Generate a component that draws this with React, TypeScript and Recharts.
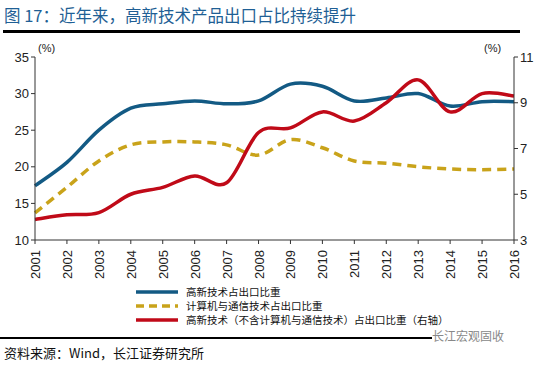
import { LineChart, Line, XAxis, YAxis } from "recharts"

const years = ["2001", "2002", "2003", "2004", "2005", "2006", "2007", "2008", "2009", "2010", "2011", "2012", "2013", "2014", "2015", "2016"]
const hiTech = [17.4, 20.6, 25.0, 28.0, 28.6, 29.0, 28.6, 29.0, 31.3, 31.0, 29.0, 29.4, 30.0, 28.3, 28.9, 28.9]
const computerComm = [13.7, 17.2, 20.8, 23.0, 23.4, 23.4, 23.0, 21.6, 23.7, 22.6, 20.8, 20.5, 20.0, 19.7, 19.6, 19.7]
const hiTechExcl = [3.9, 4.1, 4.2, 5.0, 5.3, 5.8, 5.5, 7.7, 7.9, 8.6, 8.2, 9.0, 10.0, 8.6, 9.4, 9.3]
const leftTicks = [10, 15, 20, 25, 30, 35]
const rightTicks = [3, 5, 7, 9, 11]
const seriesNames = ["高新技术占出口比重", "计算机与通信技术占出口比重", "高新技术（不含计算机与通信技术）占出口比重（右轴）"]

const data = years.map((y, i) => ({
  year: y,
  hiTech: hiTech[i],
  computerComm: computerComm[i],
  hiTechExcl: hiTechExcl[i],
}))

const numFont = "'Liberation Sans', Arial, sans-serif"
const cjkFont = "'Noto Sans CJK SC', sans-serif"

const BLUE = "#135A84"
const GOLD = "#C9A31A"
const RED = "#C00A18"

// Excel-style smoothing (Catmull-Rom), passed to Line as a d3 curve factory
function smoothCurve(context: any) {
  let pts: number[][] = []
  return {
    areaStart() {},
    areaEnd() {},
    lineStart() {
      pts = []
    },
    point(x: number, y: number) {
      pts.push([+x, +y])
    },
    lineEnd() {
      if (!pts.length) return
      context.moveTo(pts[0][0], pts[0][1])
      for (let i = 0; i < pts.length - 1; i++) {
        const p0 = pts[i - 1] || pts[i]
        const p1 = pts[i]
        const p2 = pts[i + 1]
        const p3 = pts[i + 2] || p2
        context.bezierCurveTo(
          p1[0] + (p2[0] - p0[0]) / 6,
          p1[1] + (p2[1] - p0[1]) / 6,
          p2[0] - (p3[0] - p1[0]) / 6,
          p2[1] - (p3[1] - p1[1]) / 6,
          p2[0],
          p2[1]
        )
      }
    },
  }
}

function YearTick(props: any) {
  const { x, y, payload } = props
  return (
    <text x={x} y={y + 4} transform={`rotate(-90 ${x} ${y + 4})`} textAnchor="end" dy={5} fontSize={13} fill="#222" fontFamily={numFont}>
      {payload.value}
    </text>
  )
}

function LegendBox() {
  const colors = [BLUE, GOLD, RED]
  return (
    <div style={{ fontFamily: cjkFont, fontSize: 10.5, color: "#111", lineHeight: "14px" }}>
      {seriesNames.map((n, i) => (
        <div key={n} style={{ display: "flex", alignItems: "center", height: 14 }}>
          <svg width={46} height={8} style={{ marginRight: 6 }}>
            <line x1={2} y1={4} x2={44} y2={4} stroke={colors[i]} strokeWidth={3.5} strokeDasharray={i === 1 ? "8 5" : undefined} />
          </svg>
          <span>{n}</span>
        </div>
      ))}
    </div>
  )
}

export default function App() {
  return (
    <div style={{ position: "absolute", left: 0, top: 0, width: 549, height: 368, background: "#fff", overflow: "hidden" }}>
      <div style={{ position: "absolute", left: 4, top: 3, fontFamily: cjkFont, fontSize: 16.5, color: "#1F5F95", whiteSpace: "nowrap" }}>
        图 17：近年来，高新技术产品出口占比持续提升
      </div>
      <div style={{ position: "absolute", left: 3, top: 30, width: 517, height: 3, background: "#000" }} />

      <div style={{ position: "absolute", left: 38, top: 42, fontFamily: numFont, fontSize: 11, color: "#222" }}>(%)</div>
      <div style={{ position: "absolute", left: 484, top: 42, fontFamily: numFont, fontSize: 11, color: "#222" }}>(%)</div>

      <div style={{ position: "absolute", left: 0, top: 0 }}>
        <LineChart width={549} height={290} data={data} margin={{ top: 57, right: 0, bottom: 8, left: 0 }}>
          <XAxis
            dataKey="year"
            interval={0}
            height={42}
            tick={<YearTick />}
            tickLine={{ stroke: "#333" }}
            axisLine={{ stroke: "#333" }}
            tickSize={4}
            padding={{ left: 0, right: 0 }}
          />
          <YAxis
            yAxisId="left"
            domain={[10, 35]}
            ticks={leftTicks}
            width={35}
            tickSize={4}
            tick={{ fontSize: 13, fill: "#222", fontFamily: numFont }}
            tickLine={{ stroke: "#333" }}
            axisLine={{ stroke: "#333" }}
          />
          <YAxis
            yAxisId="right"
            orientation="right"
            domain={[3, 11]}
            ticks={rightTicks}
            width={35}
            tickSize={4}
            tick={{ fontSize: 13, fill: "#222", fontFamily: numFont }}
            tickLine={{ stroke: "#333" }}
            axisLine={{ stroke: "#333" }}
          />
          <Line yAxisId="left" type={smoothCurve as any} dataKey="hiTech" name={seriesNames[0]} stroke={BLUE} strokeWidth={3.5} dot={false} isAnimationActive={false} />
          <Line yAxisId="left" type={smoothCurve as any} dataKey="computerComm" name={seriesNames[1]} stroke={GOLD} strokeWidth={3.5} strokeDasharray="9 6" dot={false} isAnimationActive={false} />
          <Line yAxisId="right" type={smoothCurve as any} dataKey="hiTechExcl" name={seriesNames[2]} stroke={RED} strokeWidth={3.5} dot={false} isAnimationActive={false} />
        </LineChart>
      </div>

      <div style={{ position: "absolute", left: 134, top: 285, width: 330 }}>
        <LegendBox />
      </div>

      <div style={{ position: "absolute", left: 0, top: 337, width: 432, height: 2, background: "#000" }} />
      <div style={{ position: "absolute", left: 432, top: 327, fontFamily: cjkFont, fontSize: 12, color: "#888", whiteSpace: "nowrap" }}>
        长江宏观固收
      </div>
      <div style={{ position: "absolute", left: 4, top: 343, fontFamily: cjkFont, fontSize: 13, color: "#111", whiteSpace: "nowrap" }}>
        资料来源：Wind，长江证券研究所
      </div>
    </div>
  )
}
